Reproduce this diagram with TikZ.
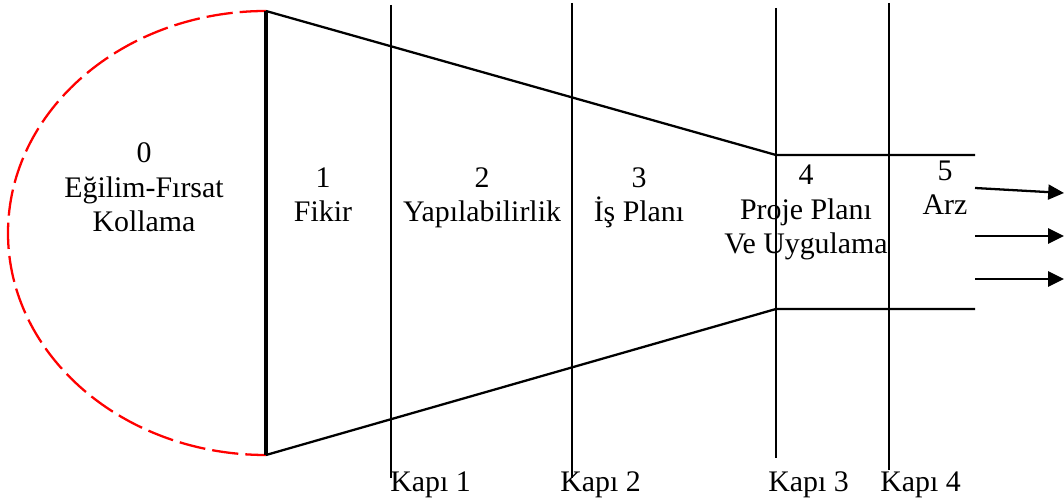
\documentclass[tikz,border=0pt]{standalone}
\usepackage{fontspec}
\setmainfont{Liberation Serif}
\usetikzlibrary{arrows.meta}
\tikzset{
  gate/.style={line width=1pt},
  edge/.style={line width=1.3pt},
  stage/.style={font=\fontsize{17}{19.8}\selectfont, align=center, anchor=base, inner sep=0pt},
  gatelabel/.style={font=\fontsize{17}{19.8}\selectfont, anchor=base west, inner sep=0pt},
}
\begin{document}
\begin{tikzpicture}[x=0.02cm, y=-0.02cm]
            \useasboundingbox (0,0) rectangle (1064,502);
            % Define the corners of the funnel
            \coordinate (A) at (266,11);
            \coordinate (B) at (266,455);
            \coordinate (C) at (776,155);
            \coordinate (D) at (776,309);
            \coordinate (E) at (975,155);
            \coordinate (F) at (975,309);

            % Draw the dashed half ellipse
            \draw[red, dash pattern=on 15pt off 4pt, line width=1.3pt]
                (A) arc[start angle=270, end angle=90, x radius=258, y radius=222];

            % Draw the funnel outline
            \draw[line width=1.9pt] (A) -- (B);
            \draw[edge] (A) -- (C) -- (E);
            \draw[edge] (B) -- (D) -- (F);

            % Draw the gates with their labels
            \foreach \n/\x/\top/\bot/\shift in {1/391/5/478/1, 2/572/3/478/12, 3/776/8/458/8, 4/889/3/470/9}{
                \coordinate (g\n top) at (\x,\top);
                \coordinate (g\n bot) at (\x,\bot);
                \draw[gate] (g\n top) -- (g\n bot);
                \node[gatelabel] (kapi\n) at (\x-\shift,492) {Kapı \n};
            }

            % Draw the output arrows
            \coordinate (a1) at (975,188);
            \coordinate (b1) at (1064,193);
            \coordinate (a2) at (975,236);
            \coordinate (b2) at (1064,236);
            \coordinate (a3) at (975,279);
            \coordinate (b3) at (1064,279);
            \foreach \i in {1,2,3}
                \draw[edge, -{Triangle[length=9pt,width=8.5pt]}] (a\i) -- (b\i);

            % Add the stage labels (base = last line)
            \node[stage] (s0) at (144,232) {0\\Eğilim-Fırsat\\Kollama};
            \node[stage] (s1) at (323,222) {1\\Fikir};
            \node[stage] (s2) at (482,222) {2\\Yapılabilirlik};
            \node[stage] (s3) at (639,222) {3\\İş Planı};
            \node[stage] (s4) at (806,254) {4\\Proje Planı\\Ve Uygulama};
            \node[stage] (s5) at (945,215) {5\\Arz};

        \end{tikzpicture}
\end{document}
